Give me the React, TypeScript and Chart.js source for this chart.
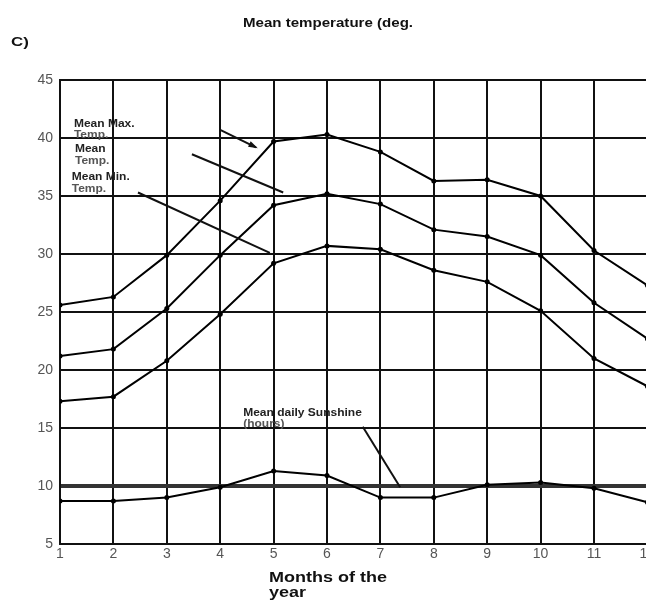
import React, { useEffect, useRef } from 'react';
import { Chart, registerables } from 'chart.js';

Chart.register(...registerables);

// ---- Data ----
const months = [1, 2, 3, 4, 5, 6, 7, 8, 9, 10, 11, 12];
const meanMaxTemp = [25.6, 26.3, 29.9, 34.6, 39.7, 40.3, 38.8, 36.3, 36.4, 35.0, 30.3, 27.3];
const meanTemp = [21.2, 21.8, 25.3, 29.9, 34.2, 35.2, 34.3, 32.1, 31.5, 29.9, 25.8, 22.7];
const meanMinTemp = [17.3, 17.7, 20.8, 24.8, 29.2, 30.7, 30.4, 28.6, 27.6, 25.1, 21.0, 18.6];
const sunshineHours = [8.7, 8.7, 9.0, 9.9, 11.3, 10.9, 9.0, 9.0, 10.1, 10.3, 9.8, 8.6];

const yMin = 5;
const yMax = 45;
const yStep = 5;

const titleLine1 = 'Mean temperature (deg.';
const titleLine2 = 'C)';
const xTitleLines = ['Months of the', 'year'];

// annotation labels: [month, value] anchor for the first line (left edge)
const labelTexts = [
  ['Mean Max.', 'Temp.'],
  ['Mean', 'Temp.'],
  ['Mean Min.', 'Temp.'],
  ['Mean daily Sunshine', '(hours)'],
];
const labelAnchorX = [1.26, 1.28, 1.22, 4.43];
const labelAnchorY = [41.2, 39.0, 36.6, 16.3];

// leader lines in data units
const leaderFromX = [4.0, 3.47, 2.46, 6.67];
const leaderFromY = [40.7, 38.6, 35.3, 15.1];
const leaderToX = [4.67, 5.18, 4.93, 7.37];
const leaderToY = [39.2, 35.3, 30.1, 9.9];
const leaderArrow = [true, false, false, false];

const FONT = "'Liberation Sans', Arial, Helvetica, sans-serif";

function drawScaledText(
  ctx: CanvasRenderingContext2D,
  text: string,
  x: number,
  y: number,
  font: string,
  sx: number,
  align: CanvasTextAlign,
  color: string
) {
  ctx.save();
  ctx.font = font;
  ctx.fillStyle = color;
  ctx.textBaseline = 'middle';
  ctx.textAlign = align;
  ctx.translate(x, y);
  ctx.scale(sx, 1);
  ctx.fillText(text, 0, 0);
  ctx.restore();
}

const textPlugin = {
  id: 'textPlugin',
  afterDraw(chart: any) {
    const ctx: CanvasRenderingContext2D = chart.ctx;
    const xs = chart.scales.x;
    const ys = chart.scales.y;

    // titles
    drawScaledText(ctx, titleLine1, 328, 23, `bold 13px ${FONT}`, 1.16, 'center', '#111');
    drawScaledText(ctx, titleLine2, 11, 42, `bold 13px ${FONT}`, 1.3, 'left', '#111');

    // x-axis title
    drawScaledText(ctx, xTitleLines[0], 269, 578, `bold 15px ${FONT}`, 1.2, 'left', '#111');
    drawScaledText(ctx, xTitleLines[1], 269, 593, `bold 15px ${FONT}`, 1.2, 'left', '#111');

    // annotation labels
    labelTexts.forEach((lines, i) => {
      const px = xs.getPixelForValue(labelAnchorX[i]);
      const py = ys.getPixelForValue(labelAnchorY[i]);
      lines.forEach((t, j) => {
        drawScaledText(ctx, t, px, py + j * 11.5, `bold 10px ${FONT}`, 1.2, 'left', j === 0 ? '#222' : '#555');
      });
    });

    // leader lines
    ctx.save();
    ctx.strokeStyle = '#111';
    ctx.fillStyle = '#111';
    ctx.lineWidth = 2;
    leaderFromX.forEach((fx, i) => {
      const x1 = xs.getPixelForValue(fx);
      const y1 = ys.getPixelForValue(leaderFromY[i]);
      const x2 = xs.getPixelForValue(leaderToX[i]);
      const y2 = ys.getPixelForValue(leaderToY[i]);
      ctx.beginPath();
      ctx.moveTo(x1, y1);
      ctx.lineTo(x2, y2);
      ctx.stroke();
      if (leaderArrow[i]) {
        const ang = Math.atan2(y2 - y1, x2 - x1);
        const len = 8;
        ctx.beginPath();
        ctx.moveTo(x2 + 2 * Math.cos(ang), y2 + 2 * Math.sin(ang));
        ctx.lineTo(x2 - len * Math.cos(ang - 0.4), y2 - len * Math.sin(ang - 0.4));
        ctx.lineTo(x2 - len * Math.cos(ang + 0.4), y2 - len * Math.sin(ang + 0.4));
        ctx.closePath();
        ctx.fill();
      }
    });
    ctx.restore();
  },
};

const CANVAS_W = 670;
const CANVAS_H = 601;

export default function App() {
  const ref = useRef<HTMLCanvasElement | null>(null);

  useEffect(() => {
    if (!ref.current) return;
    const mk = (vals: number[]) => months.map((m, i) => ({ x: m, y: vals[i] }));
    const ds = (label: string, vals: number[]) => ({
      label,
      data: mk(vals),
      borderColor: '#000',
      backgroundColor: '#000',
      borderWidth: 2,
      pointRadius: 2.5,
      pointBackgroundColor: '#000',
      pointBorderWidth: 0,
      tension: 0,
      fill: false,
    });
    const chart = new Chart(ref.current, {
      type: 'line',
      data: {
        datasets: [
          ds('Mean Max. Temp.', meanMaxTemp),
          ds('Mean Temp.', meanTemp),
          ds('Mean Min. Temp.', meanMinTemp),
          ds('Mean daily Sunshine (hours)', sunshineHours),
        ],
      },
      options: {
        responsive: false,
        animation: false,
        devicePixelRatio: 1,
        layout: { padding: { top: 80, right: CANVAS_W - 647.4, left: 0, bottom: 0 } },
        plugins: {
          legend: { display: false },
          tooltip: { enabled: false },
          title: { display: false },
        },
        scales: {
          x: {
            type: 'linear',
            min: months[0],
            max: months[months.length - 1],
            afterFit: (s: any) => {
              s.height = CANVAS_H - 544;
            },
            ticks: {
              stepSize: 1,
              padding: 2,
              color: '#555',
              font: { family: FONT, size: 14 },
            },
            grid: { color: '#111', lineWidth: 2, drawTicks: false },
            border: { color: '#111', width: 2 },
          },
          y: {
            type: 'linear',
            min: yMin,
            max: yMax,
            afterFit: (s: any) => {
              s.width = 60;
            },
            ticks: {
              stepSize: yStep,
              padding: 7,
              color: '#555',
              font: { family: FONT, size: 14 },
            },
            grid: {
              drawTicks: false,
              color: (c: any) => (c.tick && c.tick.value === 10 ? '#333' : '#111'),
              lineWidth: (c: any) => (c.tick && c.tick.value === 10 ? 4 : 2),
            },
            border: { color: '#111', width: 2 },
          },
        },
      },
      plugins: [textPlugin],
    } as any);
    return () => chart.destroy();
  }, []);

  return (
    <div
      style={{
        position: 'absolute',
        left: 0,
        top: 0,
        width: 646,
        height: 601,
        overflow: 'hidden',
        background: '#fff',
      }}
    >
      <canvas ref={ref} width={CANVAS_W} height={CANVAS_H} style={{ display: 'block' }} />
    </div>
  );
}
